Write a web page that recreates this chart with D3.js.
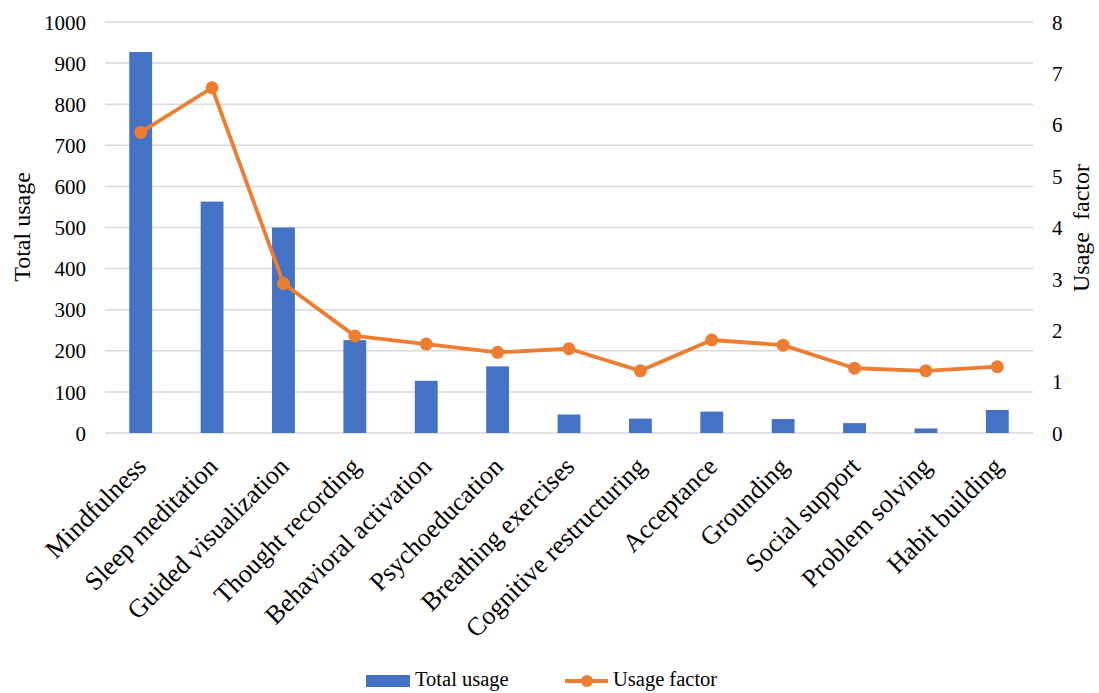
<!DOCTYPE html>
<html>
<head>
<meta charset="utf-8">
<script src="https://cdn.jsdelivr.net/npm/d3@7"></script>
<style>
  html, body { margin: 0; padding: 0; background: #fff; }
</style>
</head>
<body>
<div id="chart"></div>
<script>
'use strict';

const categories = [
  "Mindfulness", "Sleep meditation", "Guided visualization", "Thought recording",
  "Behavioral activation", "Psychoeducation", "Breathing exercises",
  "Cognitive restructuring", "Acceptance", "Grounding", "Social support",
  "Problem solving", "Habit building"
];
const totalUsage = [927, 563, 500, 226, 127, 162, 45, 35, 52, 34, 24, 11, 56];
const usageFactor = [5.85, 6.72, 2.91, 1.89, 1.73, 1.57, 1.64, 1.21, 1.81, 1.71, 1.26, 1.21, 1.29];
const leftTicks = [0, 100, 200, 300, 400, 500, 600, 700, 800, 900, 1000];
const rightTicks = [0, 1, 2, 3, 4, 5, 6, 7, 8];
const seriesNames = ["Total usage", "Usage factor"];

const width = 1099;
const height = 693;
const margin = {top: 22, right: 66, bottom: 260, left: 105};

const FONT = "Liberation Serif";
const blue = "#4472c4";
const orange = "#ed7d31";

const svg = d3.select("#chart")
  .append("svg")
  .attr("width", width)
  .attr("height", height)
  .attr("font-family", FONT);

const x = d3.scaleBand()
  .domain(categories)
  .range([margin.left, width - margin.right])
  .padding(0);

const yLeft = d3.scaleLinear()
  .domain([0, 1000])
  .range([height - margin.bottom, margin.top]);

const yRight = d3.scaleLinear()
  .domain([0, 8])
  .range([height - margin.bottom, margin.top]);

const cx = d => x(d) + x.bandwidth() / 2;

// grid lines
svg.append("g")
  .selectAll("line")
  .data(leftTicks)
  .enter()
  .append("line")
  .attr("x1", x.range()[0])
  .attr("x2", x.range()[1])
  .attr("y1", d => yLeft(d))
  .attr("y2", d => yLeft(d))
  .attr("stroke", "#d9d9d9")
  .attr("stroke-width", 1.5);

// left axis
const leftAxis = d3.axisLeft(yLeft)
  .tickValues(leftTicks)
  .tickFormat(d3.format("d"))
  .tickSize(0)
  .tickPadding(0);
const $left = svg.append("g")
  .attr("transform", `translate(86, 0)`)
  .call(leftAxis)
  .attr("font-family", FONT)
  .attr("font-size", 21);
$left.select(".domain").remove();
$left.selectAll("text")
  .attr("font-family", FONT)
  .style("font-family", FONT)
  .attr("fill", "#000")
  .attr("dy", "0.34em");

// right axis
const rightAxis = d3.axisRight(yRight)
  .tickValues(rightTicks)
  .tickSize(0)
  .tickPadding(0);
const $right = svg.append("g")
  .attr("transform", `translate(1052, 0)`)
  .call(rightAxis)
  .attr("font-family", FONT)
  .attr("font-size", 21);
$right.select(".domain").remove();
$right.selectAll("text")
  .attr("font-family", FONT)
  .style("font-family", FONT)
  .attr("fill", "#000")
  .attr("dy", "0.34em");

// bars
const barWidth = x.bandwidth() * 0.32;
svg.append("g")
  .selectAll("rect")
  .data(totalUsage)
  .enter()
  .append("rect")
  .attr("x", (d, i) => cx(categories[i]) - barWidth / 2)
  .attr("y", d => yLeft(d))
  .attr("width", barWidth)
  .attr("height", d => yLeft(0) - yLeft(d))
  .attr("fill", blue);

// line
const line = d3.line()
  .x((d, i) => cx(categories[i]))
  .y(d => yRight(d));

svg.append("path")
  .datum(usageFactor)
  .attr("d", line)
  .attr("fill", "none")
  .attr("stroke", orange)
  .attr("stroke-width", 3.8)
  .attr("stroke-linejoin", "round");

svg.append("g")
  .selectAll("circle")
  .data(usageFactor)
  .enter()
  .append("circle")
  .attr("cx", (d, i) => cx(categories[i]))
  .attr("cy", d => yRight(d))
  .attr("r", 6.5)
  .attr("fill", orange);

// category labels
svg.append("g")
  .selectAll("text")
  .data(categories)
  .enter()
  .append("text")
  .attr("text-anchor", "end")
  .attr("font-family", FONT)
  .style("font-family", FONT)
  .attr("font-size", 26)
  .attr("fill", "#000")
  .attr("transform", d => `translate(${cx(d) + 7}, 468) rotate(-45)`)
  .text(d => d);

// axis titles
svg.append("text")
  .attr("text-anchor", "middle")
  .attr("font-family", FONT)
  .style("font-family", FONT)
  .attr("font-size", 24)
  .attr("fill", "#000")
  .attr("transform", `translate(30, 227) rotate(-90)`)
  .text("Total usage");

svg.append("text")
  .attr("text-anchor", "middle")
  .attr("font-family", FONT)
  .style("font-family", FONT)
  .attr("font-size", 24)
  .attr("fill", "#000")
  .style("white-space", "pre")
  .attr("transform", `translate(1089, 228) rotate(-90)`)
  .text("Usage  factor");

// legend
const legend = svg.append("g").attr("transform", "translate(0, 681)");

const legendItems = legend.selectAll("g")
  .data(seriesNames)
  .enter()
  .append("g")
  .attr("transform", (d, i) => `translate(${i === 0 ? 366 : 565}, 0)`);

legendItems.each(function(d, i) {
  const g = d3.select(this);
  if (i === 0) {
    g.append("rect")
      .attr("x", 0)
      .attr("y", -6)
      .attr("width", 44)
      .attr("height", 12)
      .attr("fill", blue);
  } else {
    g.append("line")
      .attr("x1", 0).attr("x2", 43)
      .attr("y1", 0).attr("y2", 0)
      .attr("stroke", orange)
      .attr("stroke-width", 3.8);
    g.append("circle")
      .attr("cx", 22).attr("cy", 0).attr("r", 6)
      .attr("fill", orange);
  }
  g.append("text")
    .attr("x", i === 0 ? 49 : 48)
    .attr("y", 5)
    .attr("font-family", FONT)
    .style("font-family", FONT)
    .attr("font-size", 20.5)
    .attr("fill", "#000")
    .text(d);
});
</script>
</body>
</html>
